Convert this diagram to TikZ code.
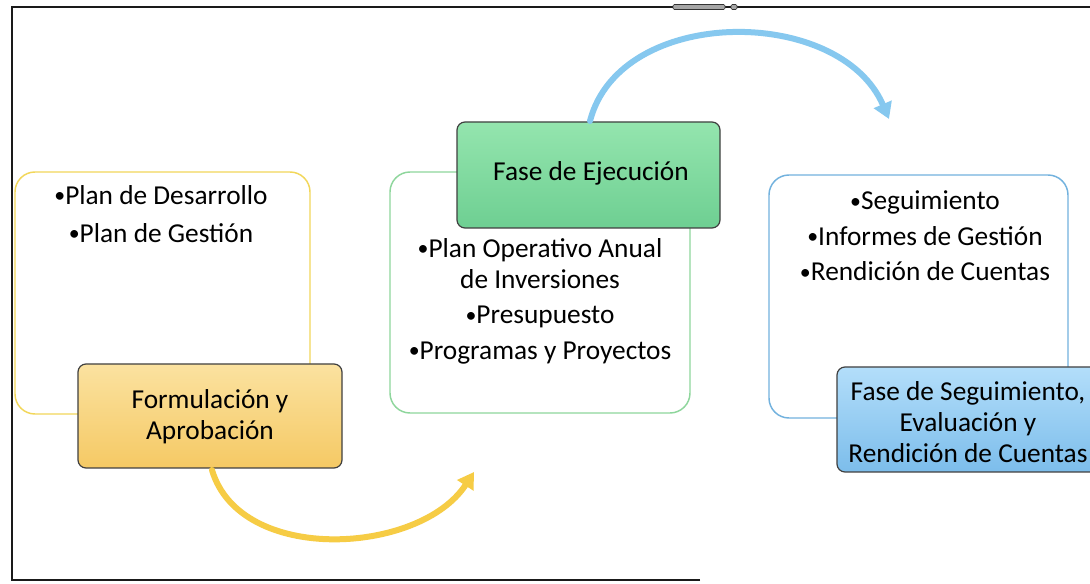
\documentclass[tikz,border=0pt]{standalone}
\usepackage{fontspec}
\setmainfont{Carlito}
\usetikzlibrary{arrows.meta}
\definecolor{yline}{HTML}{F2D75A}
\definecolor{gline}{HTML}{8ED69C}
\definecolor{bline}{HTML}{72B2DE}
\definecolor{yarc}{HTML}{F6CC45}
\definecolor{barc}{HTML}{86C8EF}
\definecolor{frameline}{HTML}{1A1A1A}
\definecolor{ytop}{HTML}{FBE2A0}
\definecolor{ybot}{HTML}{F5C964}
\definecolor{gtop}{HTML}{94E5AE}
\definecolor{gbot}{HTML}{6ECF92}
\definecolor{btop}{HTML}{B3DEFA}
\definecolor{bbot}{HTML}{7CBDEB}
\newcommand{\bu}{\raisebox{0.12ex}{\scalebox{0.8}{•}}}
\tikzset{
  outbox/.style={draw=#1, line width=1.1pt, rounded corners=15pt, anchor=north west,
    inner sep=0pt, outer sep=0pt, fill=white},
  phasebox/.style={draw=black!75, line width=0.9pt, rounded corners=6pt, anchor=north west,
    inner sep=0pt, outer sep=0pt},
  txt/.style={align=center, inner sep=0pt, font=\fontsize{20.5}{23.5}\selectfont},
  flow/.style={line width=4.5pt, line cap=round, -{Triangle[length=12pt,width=14pt]}},
}
\begin{document}
\begin{tikzpicture}[x=0.75pt,y=-0.75pt]
\useasboundingbox (0,0) rectangle (1090,584);
\fill[white] (0,0) rectangle (1090,584);
% frame
\draw[frameline, line width=2.2pt] (700,580) -- (12,580) -- (12,7) -- (1090,7);
\fill[gray!70, draw=gray!40!black, line width=0.4pt, rounded corners=1pt] (673,4.5) rectangle (725,9.5);
\fill[gray!70, draw=gray!40!black, line width=0.4pt, rounded corners=1pt] (731,4.5) rectangle (737,9.5);

% outline boxes
\node[outbox=yline, minimum width=295*0.75pt, minimum height=242*0.75pt] (yb) at (15,172) {};
\node[outbox=gline, minimum width=300*0.75pt, minimum height=241*0.75pt] (gb) at (390,172) {};
\node[outbox=bline, minimum width=299*0.75pt, minimum height=243*0.75pt] (bb) at (769,175) {};

% phase boxes
\node[phasebox, top color=ytop, bottom color=ybot, minimum width=264*0.75pt, minimum height=104*0.75pt] (form) at (78,364) {};
\node[phasebox, top color=gtop, bottom color=gbot, minimum width=263*0.75pt, minimum height=106*0.75pt] (exe) at (457,122) {};
\node[phasebox, top color=btop, bottom color=bbot, minimum width=270*0.75pt, minimum height=105*0.75pt] (seg) at (837,367) {};

% texts
\node[txt] (ybt) at (161,214) {\bu Plan de Desarrollo\\[5pt]\bu Plan de Gestión};
\node[txt] (formt) at (210,417) {Formulación y\\Aprobación};
\node[txt] (gbt) at (540,301) {\bu Plan Operativo Anual\\de Inversiones\\[3pt]\bu Presupuesto\\[3pt]\bu Programas y Proyectos};
\node[txt] (exet) at (591,173) {Fase de Ejecución};
\node[txt] (bbt) at (925,236) {\bu Seguimiento\\[3pt]\bu Informes de Gestión\\[3pt]\bu Rendición de Cuentas};
\node[txt] (segt) at (968,422) {Fase de Seguimiento,\\Evaluación y\\Rendición de Cuentas};

% arcs
\coordinate (ya) at (212,470);
\coordinate (yz) at (474,472);
\coordinate (ba) at (590,121);
\coordinate (bz) at (889,119);
\draw[flow, yarc] (ya) .. controls (240,565) and (420,555) .. (yz);
\draw[flow, barc] (ba) .. controls (620,5) and (840,5) .. (bz);
\end{tikzpicture}
\end{document}
